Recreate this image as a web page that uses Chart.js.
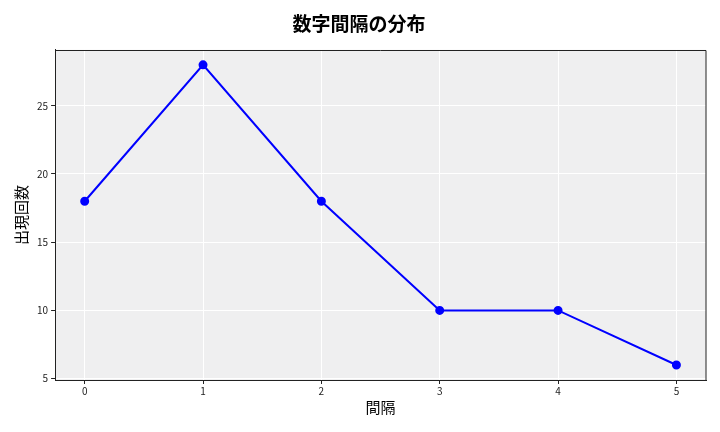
<!DOCTYPE html>
<html>
<head>
<meta charset="utf-8">
<script src="https://cdn.jsdelivr.net/npm/chart.js@4"></script>
<style>
  html, body { margin: 0; padding: 0; background: #fff; }
  #wrap { width: 720px; height: 432px; }
</style>
</head>
<body>
<div id="wrap"><canvas id="chart" width="720" height="432"></canvas></div>
<script>
// Data
const intervals = [0, 1, 2, 3, 4, 5];
const counts = [18, 28, 18, 10, 10, 6];
const yTicks = [5, 10, 15, 20, 25];
const xTicks = [0, 1, 2, 3, 4, 5];

const fontFamily = "'Noto Sans CJK JP', 'DejaVu Sans', sans-serif";

// Grey plot-area background
const plotBackground = {
    id: 'plotBackground',
    beforeDraw(chart) {
        const { ctx, chartArea } = chart;
        ctx.save();
        ctx.fillStyle = '#efeff0';
        ctx.fillRect(chartArea.left, chartArea.top, chartArea.right - chartArea.left, chartArea.bottom - chartArea.top);
        ctx.restore();
    }
};

// Top and right edges of the box
const frame = {
    id: 'frame',
    afterDraw(chart) {
        const { ctx, chartArea } = chart;
        ctx.save();
        ctx.strokeStyle = '#222';
        ctx.lineWidth = 1;
        ctx.beginPath();
        ctx.moveTo(chartArea.left, Math.round(chartArea.top) + 0.5);
        ctx.lineTo(chartArea.right, Math.round(chartArea.top) + 0.5);
        ctx.lineTo(chartArea.right, chartArea.bottom);
        ctx.stroke();
        ctx.restore();
    }
};

const ctx = document.getElementById('chart').getContext('2d');
new Chart(ctx, {
    type: 'line',
    data: {
        datasets: [{
            data: intervals.map((x, i) => ({ x: x, y: counts[i] })),
            borderColor: '#0000ff',
            backgroundColor: '#0000ff',
            borderWidth: 2,
            pointRadius: 3.5,
            pointHoverRadius: 3.5,
            tension: 0,
            fill: false
        }]
    },
    options: {
        responsive: false,
        animation: false,
        devicePixelRatio: 1,
        layout: { padding: { left: 12, right: 14, top: 4, bottom: 16 } },
        plugins: {
            legend: { display: false },
            tooltip: { enabled: false },
            title: {
                display: true,
                text: '数字間隔の分布',
                color: '#000',
                font: { family: fontFamily, size: 19, weight: 'bold' },
                padding: { top: 8, bottom: 15 }
            }
        },
        scales: {
            x: {
                type: 'linear',
                min: -0.25,
                max: 5.25,
                afterBuildTicks: axis => { axis.ticks = xTicks.map(v => ({ value: v })); },
                grid: { color: '#ffffff', lineWidth: 1, tickColor: '#222', tickLength: 4, drawTicks: true },
                border: { color: '#222', width: 1 },
                ticks: { color: '#222', font: { family: fontFamily, size: 10 }, padding: 1, maxRotation: 0 },
                title: {
                    display: true,
                    text: '間隔',
                    color: '#000',
                    font: { family: fontFamily, size: 15 },
                    padding: { top: 0, bottom: 0 }
                }
            },
            y: {
                type: 'linear',
                min: 4.9,
                max: 29.1,
                afterBuildTicks: axis => { axis.ticks = yTicks.map(v => ({ value: v })); },
                grid: { color: '#ffffff', lineWidth: 1, tickColor: '#222', tickLength: 4, drawTicks: true },
                border: { color: '#222', width: 1 },
                ticks: { color: '#222', font: { family: fontFamily, size: 10 }, padding: 3 },
                title: {
                    display: true,
                    text: '出現回数',
                    color: '#000',
                    font: { family: fontFamily, size: 15 },
                    padding: { top: 0, bottom: 4 }
                }
            }
        }
    },
    plugins: [plotBackground, frame]
});
</script>
</body>
</html>
